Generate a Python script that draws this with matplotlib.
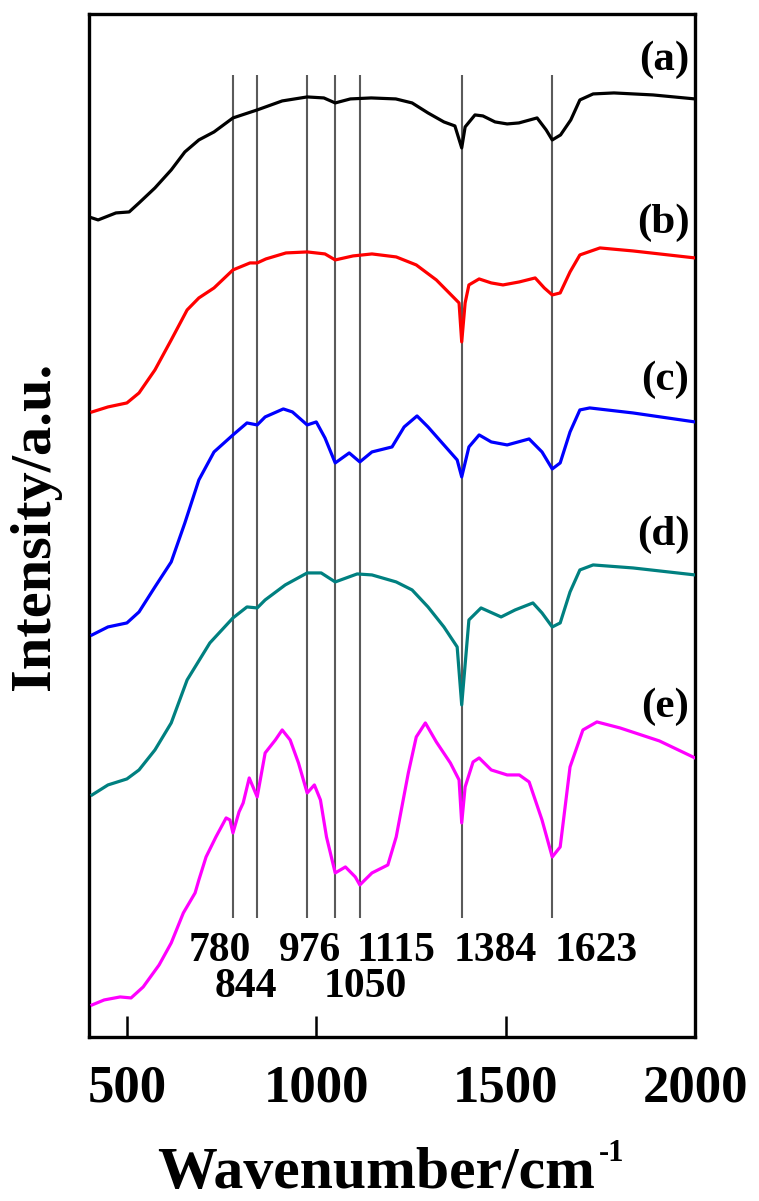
import matplotlib
matplotlib.use("Agg")
import matplotlib.pyplot as plt

plt.rcParams['font.family'] = ['Liberation Serif', 'DejaVu Serif']
plt.rcParams['font.weight'] = 'bold'

# ---------------- data ----------------
wn_a = [408, 424, 471, 506, 532, 574, 617, 653, 690, 730, 780, 844, 910, 976, 1020,
        1050, 1090, 1145, 1210, 1253, 1295, 1337, 1366, 1384, 1393, 1419, 1440, 1472,
        1504, 1535, 1583, 1607, 1623, 1645, 1672, 1696, 1731, 1786, 1889, 2000]
int_a = [81.9, 81.7, 82.4, 82.5, 83.4, 84.9, 86.7, 88.5, 89.7, 90.5, 91.9, 92.7, 93.6,
         94.0, 93.9, 93.4, 93.8, 93.9, 93.8, 93.4, 92.4, 91.5, 91.1, 88.9, 91.0, 92.2,
         92.1, 91.5, 91.3, 91.4, 91.9, 90.7, 89.7, 90.2, 91.7, 93.7, 94.3, 94.4, 94.2, 93.8]

wn_b = [408, 450, 500, 532, 574, 617, 659, 690, 730, 780, 825, 844, 867, 920, 976, 1023,
        1050, 1097, 1147, 1211, 1264, 1317, 1364, 1377, 1384, 1393, 1403, 1430, 1462,
        1493, 1536, 1578, 1602, 1623, 1644, 1670, 1696, 1749, 1836, 2000]
int_b = [62.5, 63.0, 63.4, 64.4, 66.7, 69.7, 72.7, 73.9, 74.9, 76.7, 77.4, 77.4, 77.8,
         78.4, 78.5, 78.3, 77.7, 78.1, 78.3, 78.0, 77.2, 75.7, 73.9, 73.4, 69.5, 73.4,
         75.2, 75.8, 75.4, 75.2, 75.5, 75.9, 74.9, 74.2, 74.4, 76.5, 78.2, 78.9, 78.6, 77.9]

wn_c = [408, 450, 500, 532, 574, 617, 653, 690, 730, 780, 817, 844, 865, 913, 937, 976,
        1000, 1023, 1050, 1087, 1115, 1147, 1200, 1232, 1266, 1295, 1337, 1372, 1384,
        1403, 1430, 1462, 1504, 1562, 1596, 1623, 1644, 1670, 1696, 1722, 1836, 2000]
int_c = [40.2, 41.0, 41.4, 42.5, 45.0, 47.5, 51.4, 55.7, 58.5, 60.2, 61.4, 61.2, 62.0,
         62.8, 62.5, 61.2, 61.5, 59.9, 57.4, 58.4, 57.5, 58.5, 59.0, 61.0, 62.1, 61.0,
         59.2, 57.7, 56.0, 59.0, 60.2, 59.5, 59.2, 59.8, 58.5, 56.8, 57.4, 60.5, 62.7,
         62.9, 62.4, 61.5]

wn_d = [408, 450, 500, 532, 574, 617, 659, 719, 780, 817, 844, 865, 918, 976, 1013, 1050,
        1108, 1147, 1211, 1253, 1295, 1337, 1372, 1384, 1403, 1435, 1488, 1525, 1572,
        1596, 1623, 1644, 1670, 1696, 1731, 1836, 2000]
int_d = [24.2, 25.2, 25.8, 26.7, 28.7, 31.4, 35.7, 39.4, 41.9, 43.0, 42.9, 43.7, 45.2,
         46.4, 46.4, 45.5, 46.3, 46.2, 45.5, 44.7, 43.0, 41.0, 39.0, 33.2, 41.7, 42.9,
         42.0, 42.7, 43.4, 42.4, 41.0, 41.4, 44.5, 46.7, 47.2, 46.9, 46.2]

wn_e = [408, 440, 482, 511, 543, 585, 617, 649, 680, 690, 709, 735, 762, 772, 780, 796,
        807, 823, 844, 865, 892, 910, 931, 953, 976, 995, 1011, 1027, 1050, 1077, 1103,
        1115, 1147, 1189, 1211, 1243, 1264, 1288, 1317, 1354, 1377, 1384, 1393, 1414,
        1430, 1462, 1504, 1536, 1562, 1596, 1623, 1644, 1670, 1704, 1741, 1802, 1906, 2000]
int_e = [3.2, 3.7, 4.0, 3.9, 5.0, 7.2, 9.4, 12.4, 14.4, 15.7, 18.0, 20.0, 21.9, 21.7,
         20.4, 22.5, 23.4, 25.9, 24.0, 28.4, 29.7, 30.7, 29.7, 27.4, 24.4, 25.2, 23.7,
         20.0, 16.4, 17.0, 16.0, 15.2, 16.4, 17.2, 20.0, 26.4, 30.0, 31.4, 29.5, 27.4,
         25.7, 21.4, 25.0, 27.5, 27.9, 26.7, 26.2, 26.2, 25.5, 21.7, 18.0, 19.0, 27.0,
         30.7, 31.5, 30.9, 29.6, 27.9]

series_labels = ['(a)', '(b)', '(c)', '(d)', '(e)']
colors = ['#000000', '#ff0000', '#0000ff', '#008080', '#ff00ff']

peak_wn = [780, 844, 976, 1050, 1115, 1384, 1623]
peak_row1 = ['780', '976', '1115', '1384', '1623']
peak_row2 = ['844', '1050']
xticks = [500, 1000, 1500, 2000]

# ---------------- figure ----------------
fig = plt.figure(figsize=(7.59, 12.01), dpi=100)
ax = fig.add_axes([0.1173, 0.1366, 0.7984, 0.8518])

ax.vlines(peak_wn, 11.9, 96.2, colors='#5a5a5a', linewidth=1.5, zorder=1)

curves = [(wn_a, int_a), (wn_b, int_b), (wn_c, int_c), (wn_d, int_d), (wn_e, int_e)]
for (x, y), c in zip(curves, colors):
    ax.plot(x, y, color=c, linewidth=2.3, zorder=3, solid_joinstyle='round')

ax.set_xlim(400, 2000)
ax.set_ylim(0, 102.3)

# series labels
label_y = [97.7, 81.4, 65.7, 50.2, 33.0]
for lab, yy in zip(series_labels, label_y):
    ax.text(1985, yy, lab, ha='right', va='center', fontsize=31, fontweight='bold')

# peak labels
row1_x = [746, 983, 1211, 1472, 1739]
row2_x = [815, 1129]
for t, xx in zip(peak_row1, row1_x):
    ax.text(xx, 8.6, t, ha='center', va='center', fontsize=30, fontweight='bold')
for t, xx in zip(peak_row2, row2_x):
    ax.text(xx, 5.0, t, ha='center', va='center', fontsize=30, fontweight='bold')

ax.set_xticks(xticks)
ax.set_xticklabels([str(v) for v in xticks])
ax.set_yticks([])
ax.tick_params(axis='x', direction='in', length=15, width=1.8, pad=20,
               labelsize=38)
for lbl in ax.get_xticklabels():
    lbl.set_fontweight('bold')
for s in ax.spines.values():
    s.set_linewidth(2.4)

xl = ax.set_xlabel('Wavenumber/cm', fontsize=43, fontweight='bold')
ax.xaxis.set_label_coords(0.474, -0.108)
ax.annotate('-1', xy=(1.0, 1.0), xycoords=xl, xytext=(3, 6),
            textcoords='offset points', ha='left', va='top',
            fontsize=22, fontweight='bold')
ax.set_ylabel('Intensity/a.u.', fontsize=42, fontweight='bold', labelpad=20)

fig.savefig('out.png', dpi=100)
